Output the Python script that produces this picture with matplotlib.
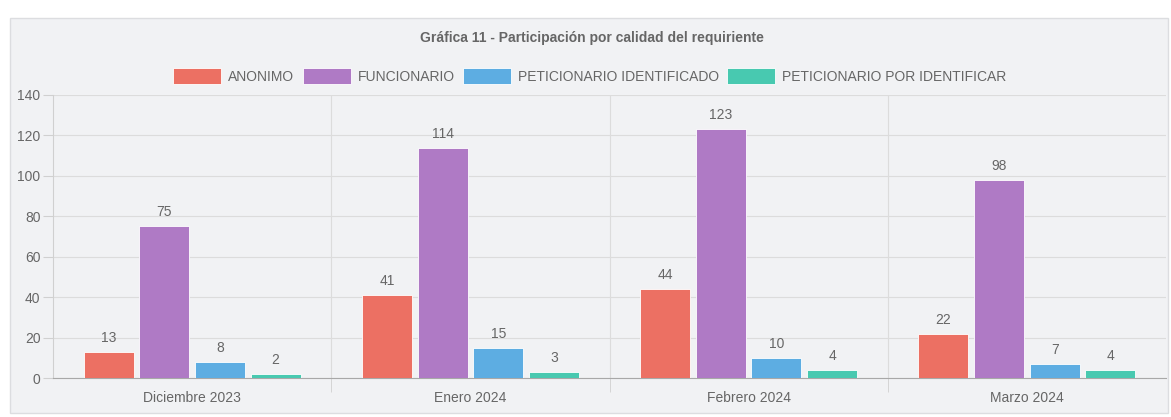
import numpy as np
import matplotlib.pyplot as plt
from matplotlib.patches import Rectangle

plt.rcParams['font.family'] = ['Liberation Sans', 'DejaVu Sans']

# Data
months = ['Diciembre 2023', 'Enero 2024', 'Febrero 2024', 'Marzo 2024']
series_names = ['ANONIMO', 'FUNCIONARIO', 'PETICIONARIO IDENTIFICADO',
                'PETICIONARIO POR IDENTIFICAR']
anonimo = [13, 41, 44, 22]
funcionario = [75, 114, 123, 98]
pet_identificado = [8, 15, 10, 7]
pet_por_identificar = [2, 3, 4, 4]

colors = ['#ec7063', '#af7ac5', '#5dade2', '#48c9b0']
text_col = '#666666'
bg = '#f1f2f4'

fig = plt.figure(figsize=(11.71, 4.17), dpi=100)
fig.patch.set_facecolor('white')

# panel background
W, H = 1171, 417
fig.patches.append(Rectangle((10 / W, (H - 413) / H), 1158 / W, 395 / H,
                             transform=fig.transFigure, facecolor=bg,
                             edgecolor='#dcdde0', linewidth=1, zorder=-10))

ax = fig.add_axes([53 / W, (H - 378) / H, (1166 - 53) / W, (378 - 95) / H])
ax.patch.set_alpha(0)

x = np.arange(len(months))
all_series = [anonimo, funcionario, pet_identificado, pet_por_identificar]
step = 0.2
width = 0.18
for i, (vals, name, c) in enumerate(zip(all_series, series_names, colors)):
    pos = x + (i - 1.5) * step
    ax.bar(pos, vals, width=width, color=c, label=name, zorder=3,
           edgecolor='#ffffff', linewidth=0.6)
    for px, v in zip(pos, vals):
        ax.annotate(str(v), (px, v), xytext=(0, 5), textcoords='offset points',
                    ha='center', va='bottom', fontsize=10, color=text_col)

ax.set_xlim(-0.5, len(months) - 0.5)
ax.set_ylim(0, 140)
ax.set_yticks(range(0, 141, 20))
ax.set_xticks(x)
ax.set_xticklabels(months)
ax.set_xticks(x[:-1] + 0.5, minor=True)

ax.tick_params(axis='y', length=7, color='#d0d0d0', labelsize=10,
               labelcolor=text_col, pad=2)
ax.tick_params(axis='x', which='major', length=0, labelsize=10,
               labelcolor=text_col, pad=9)
ax.tick_params(axis='x', which='minor', length=10, color='#d0d0d0')

ax.grid(axis='y', color='#dcdcdc', linewidth=0.8, zorder=0)
ax.grid(axis='x', which='minor', color='#dcdcdc', linewidth=0.8, zorder=0)

for s in ['top', 'right']:
    ax.spines[s].set_visible(False)
ax.spines['left'].set_color('#d0d0d0')
ax.spines['bottom'].set_color('#a8a8a8')

fig.text(592 / W, 1 - 38 / H, 'Gráfica 11 - Participación por calidad del requiriente',
         ha='center', va='center', fontsize=10, fontweight='bold', color=text_col)

fig.legend(loc='center', bbox_to_anchor=(590 / W, 1 - 76 / H), ncol=4,
           frameon=False, fontsize=10, handlelength=3.45, handleheight=1.5,
           handletextpad=0.5, columnspacing=0.6, labelcolor=text_col)

fig.savefig('out.png', dpi=100, facecolor='white')
